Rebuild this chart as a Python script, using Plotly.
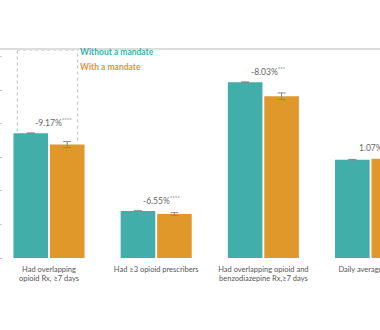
import plotly.graph_objects as go

categories = ["Had overlapping<br>opioid Rx, ≥7 days",
              "Had ≥3 opioid prescribers",
              "Had overlapping opioid and<br>benzodiazepine Rx,≥7 days",
              "Daily average MME"]
without_mandate = [3.72, 1.40, 5.24, 2.93]
with_mandate = [3.38, 1.31, 4.82, 2.96]
err_without = [0.01, 0.01, 0.01, 0.01]
err_with = [0.09, 0.04, 0.10, 0.03]
change_labels = ["-9.17%<sup>****</sup>", "-6.55%<sup>****</sup>",
                 "-8.03%<sup>***</sup>", "1.07%<sup>****</sup>"]
y_ticks = [0, 1, 2, 3, 4, 5, 6]

TEAL = "#41aeaa"
ORANGE = "#e0982b"

fig = go.Figure()
fig.add_trace(go.Bar(x=categories, y=without_mandate, name="Without a mandate",
                     marker=dict(color=TEAL, line=dict(width=0)),
                     error_y=dict(type="data", array=err_without, color="#888",
                                  thickness=1, width=4)))
fig.add_trace(go.Bar(x=categories, y=with_mandate, name="With a mandate",
                     marker=dict(color=ORANGE, line=dict(width=0)),
                     error_y=dict(type="data", array=err_with, color="#888",
                                  thickness=1, width=4)))

for i, lab in enumerate(change_labels):
    top = max(without_mandate[i] + err_without[i], with_mandate[i] + err_with[i])
    fig.add_annotation(x=categories[i], y=top, text=lab, showarrow=False,
                       xanchor="center", yanchor="bottom", yshift=3, xshift=5,
                       font=dict(family="Lato", size=8.5, color="#666"))

# legend-like labels
fig.add_annotation(x=0.27, y=6.15, xref="x", yref="y", text="<b>Without a mandate</b>",
                   showarrow=False, xanchor="left", yanchor="middle",
                   font=dict(family="Lato", size=8.5, color=TEAL))
fig.add_annotation(x=0.27, y=5.70, xref="x", yref="y", text="<b>With a mandate</b>",
                   showarrow=False, xanchor="left", yanchor="middle",
                   font=dict(family="Lato", size=8.5, color=ORANGE))

# dashed bracket linking first group to legend
dash = dict(color="#bbbbbb", width=1, dash="3px,3px")
fig.add_shape(type="line", xref="x", yref="y", x0=-0.296, x1=-0.296,
              y0=without_mandate[0] + 0.05, y1=6.2, line=dash)
fig.add_shape(type="line", xref="x", yref="y", x0=0.268, x1=0.268,
              y0=with_mandate[0] + 0.12, y1=6.2, line=dash)
fig.add_shape(type="line", xref="x", yref="y", x0=-0.296, x1=0.268,
              y0=6.2, y1=6.2, line=dash)

# top border line
fig.add_shape(type="line", xref="paper", yref="paper", x0=-0.01, x1=1.0,
              y0=1.0, y1=1.0, line=dict(color="#dddddd", width=2))

fig.update_layout(
    width=380, height=330,
    margin=dict(l=3, r=0, t=49, b=72, pad=0, autoexpand=False),
    paper_bgcolor="white", plot_bgcolor="white",
    barmode="group", bargap=0.32, bargroupgap=0.05,
    showlegend=False,
    font=dict(family="Lato", color="#555"),
)
fig.update_xaxes(range=[-0.429, 3.088], showline=False, showgrid=False,
                 ticks="", tickangle=0, automargin=False,
                 tickfont=dict(family="Lato", size=7.5, color="#555"),
                 ticklabelstandoff=5)
fig.update_yaxes(range=[0, 6.23], tickvals=y_ticks, showticklabels=False,
                 ticks="outside", ticklen=3, tickcolor="#cccccc", showgrid=False,
                 showline=False, zeroline=False, automargin=False)

fig.write_html("out.html")
